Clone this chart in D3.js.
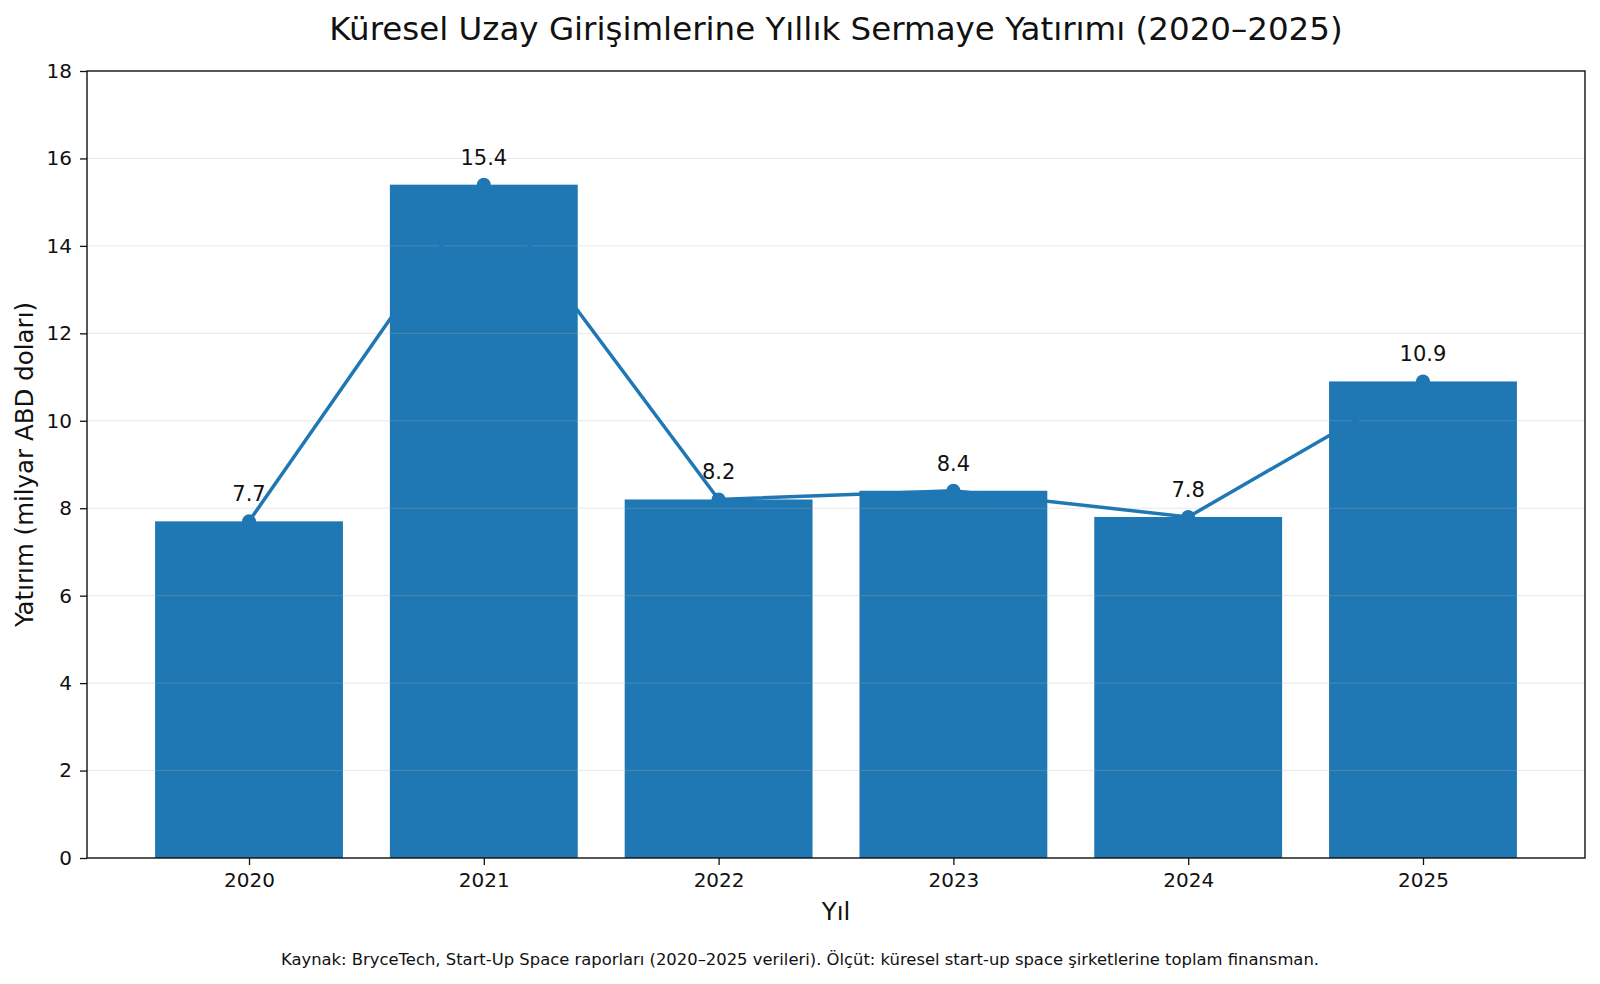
<!DOCTYPE html>
<html><head><meta charset="utf-8">
<script src="https://cdn.jsdelivr.net/npm/d3@7"></script>
<style>body{margin:0;background:#fff}svg{font-family:"DejaVu Sans",sans-serif}</style>
</head><body><svg id="c" width="1600" height="984"></svg>
<script>
const years = ["2020","2021","2022","2023","2024","2025"];
const values = [7.7, 15.4, 8.2, 8.4, 7.8, 10.9];
const yTicks = [0,2,4,6,8,10,12,14,16,18];
const title = "Küresel Uzay Girişimlerine Yıllık Sermaye Yatırımı (2020–2025)";
const xLabel = "Yıl";
const yLabel = "Yatırım (milyar ABD doları)";
const note = "Kaynak: BryceTech, Start-Up Space raporları (2020–2025 verileri). Ölçüt: küresel start-up space şirketlerine toplam finansman.";

const svg = d3.select("#c");
const L=87,R=1585,T=71,B=858;
const color="#1f77b4";
const idx = years.map((d,i)=>i);
const x = d3.scaleLinear().domain([-0.69,5.69]).range([L,R]);
const y = d3.scaleLinear().domain([0,18]).range([B,T]);
const bw = x(0.4)-x(-0.4);

svg.append("g").selectAll("rect").data(values).join("rect")
 .attr("x",(d,i)=>x(i)-bw/2).attr("width",bw)
 .attr("y",d=>y(d)).attr("height",d=>B-y(d)).attr("fill",color);

// grid on top
svg.append("g").selectAll("line").data(yTicks.filter(t=>t>0&&t<18)).join("line")
 .attr("x1",L).attr("x2",R).attr("y1",d=>y(d)).attr("y2",d=>y(d))
 .attr("stroke","#b0b0b0").attr("stroke-opacity",0.3).attr("stroke-width",1);

const line = d3.line().x((d,i)=>x(i)).y(d=>y(d));
svg.append("path").datum(values).attr("d",line).attr("fill","none")
 .attr("stroke",color).attr("stroke-width",3.5);
svg.append("g").selectAll("circle").data(values).join("circle")
 .attr("cx",(d,i)=>x(i)).attr("cy",d=>y(d)).attr("r",7).attr("fill",color);

svg.append("g").selectAll("text").data(values).join("text")
 .attr("x",(d,i)=>x(i)).attr("y",d=>y(d)-20)
 .attr("text-anchor","middle").attr("font-size",21).attr("fill","#111")
 .text(d=>d.toFixed(1));

// axes
const ya = d3.axisLeft(y).tickValues(yTicks).tickSize(7).tickPadding(8);
const gy = svg.append("g").attr("transform",`translate(${L},0)`).call(ya);
const xa = d3.axisBottom(x).tickValues(idx).tickFormat(i=>years[i]).tickSize(7).tickPadding(8);
const gx = svg.append("g").attr("transform",`translate(0,${B})`).call(xa);
[gy,gx].forEach(g=>{g.select(".domain").remove();g.selectAll("text").attr("font-size",20).attr("fill","#111").attr("font-family","DejaVu Sans");g.selectAll("line").attr("stroke","#111").attr("stroke-width",1.3);});
svg.append("rect").attr("x",L).attr("y",T).attr("width",R-L).attr("height",B-T)
 .attr("fill","none").attr("stroke","#111").attr("stroke-width",1.4);

svg.append("text").attr("x",(L+R)/2).attr("y",40).attr("text-anchor","middle")
 .attr("font-size",32.5).attr("fill","#111").text(title);
svg.append("text").attr("x",(L+R)/2).attr("y",920).attr("text-anchor","middle")
 .attr("font-size",24.5).attr("fill","#111").text(xLabel);
svg.append("text").attr("transform",`translate(33,${(T+B)/2}) rotate(-90)`).attr("text-anchor","middle")
 .attr("font-size",24.5).attr("fill","#111").text(yLabel);
svg.append("text").attr("x",800).attr("y",965).attr("text-anchor","middle")
 .attr("font-size",16.4).attr("fill","#111").text(note);
</script></body></html>
